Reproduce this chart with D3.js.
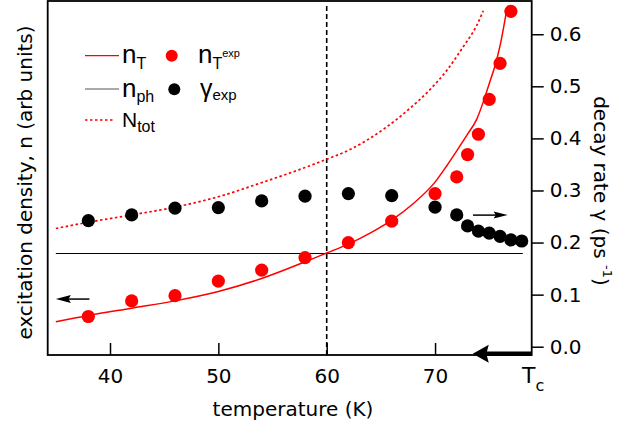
<!DOCTYPE html>
<html><head><meta charset="utf-8">
<script src="https://cdn.jsdelivr.net/npm/d3@7"></script>
<style>body{margin:0;background:#fff} svg{display:block}</style>
</head><body>
<svg id="c" width="621" height="425"></svg>
<script>
// ---------- data ----------
const tempTicks  = [40, 50, 60, 70];
const gammaTicks = [0, 0.1, 0.2, 0.3, 0.4, 0.5, 0.6];

// n_T experimental (red dots, left axis, arb units)
const nTexpT = [38, 42, 46, 50, 54, 58, 62, 66, 70, 72, 73, 74, 75, 76, 77];
const nTexpV = [0.058, 0.088, 0.098, 0.126, 0.147, 0.171, 0.200, 0.241, 0.294, 0.326, 0.369, 0.408, 0.475, 0.544, 0.644];

// gamma experimental (black dots, right axis, ps^-1)
const gammaT = [38, 42, 46, 50, 54, 58, 62, 66, 70, 72, 73, 74, 75, 76, 77, 78];
const gammaV = [0.242, 0.253, 0.266, 0.267, 0.280, 0.289, 0.294, 0.290, 0.268, 0.253, 0.232, 0.222, 0.218, 0.212, 0.205, 0.203];

// n_T model (red solid line)
const nTfitT = [35, 38, 42, 46, 50, 54, 58, 60, 62, 64, 66, 68, 70, 71.1, 72, 73, 73.85, 74.5, 75, 75.5, 76, 76.3, 76.6];
const nTfitV = [0.048, 0.060, 0.074, 0.088, 0.106, 0.131, 0.163, 0.180, 0.197, 0.218, 0.243, 0.275, 0.316, 0.348, 0.376, 0.408, 0.437, 0.473, 0.505, 0.537, 0.578, 0.610, 0.645];

// N_tot (red dotted line)
const nTotT = [35, 38, 42, 46, 50, 54, 58, 60, 62, 65.4, 67.7, 69.5, 71.1, 72.6, 73.85, 74.45];
const nTotV = [0.227, 0.239, 0.253, 0.268, 0.288, 0.315, 0.344, 0.360, 0.377, 0.420, 0.458, 0.493, 0.531, 0.576, 0.617, 0.645];

// n_ph (black horizontal line)
const nPhT = [35, 78.1];
const nPhV = [0.18, 0.18];

// markers / annotations (data units)
const tMarker = 60;
const leftArrow  = {t0: 38.1, t1: 35.0, v: 0.0915};
const rightArrow = {t0: 73.5, t1: 76.7, v: 0.2527};
const tcArrow    = {t0: 78.92, t1: 73.48, v: -0.0135};

// ---------- layout ----------
const L = 47.7, R = 531.7, T = 1, B = 355;
const svg = d3.select("#c");
const x  = d3.scaleLinear().domain([34.25, 78.92]).range([L, R]);
const yR = d3.scaleLinear().domain([-0.0159, 0.6638]).range([B, T]);
const yL = d3.scaleLinear().domain([-0.0159, 0.6638]).range([B, T]);
const AX = "DejaVu Sans, sans-serif";
const LG = "Liberation Sans, Arial, sans-serif";

// vertical dashed line at T = 60
svg.append("line")
  .attr("x1", x(tMarker)).attr("x2", x(tMarker))
  .attr("y1", yR(0.654)).attr("y2", B)
  .attr("stroke", "#000").attr("stroke-width", 1.6).attr("stroke-dasharray", "5,3");

// n_ph line
const zip = (a, b) => a.map((d, i) => [d, b[i]]);
svg.append("path").datum(zip(nPhT, nPhV))
  .attr("d", d3.line().x(d => x(d[0])).y(d => Math.round(yL(d[1])) + 0.5))
  .attr("fill", "none").attr("stroke", "#000").attr("stroke-width", 1);

// N_tot dotted
svg.append("path").datum(zip(nTotT, nTotV))
  .attr("d", d3.line().curve(d3.curveMonotoneX).x(d => x(d[0])).y(d => yL(d[1])))
  .attr("fill", "none").attr("stroke", "#f00").attr("stroke-width", 1.7).attr("stroke-dasharray", "2.5,2.5");

// n_T line
svg.append("path").datum(zip(nTfitT, nTfitV))
  .attr("d", d3.line().curve(d3.curveMonotoneX).x(d => x(d[0])).y(d => yL(d[1])))
  .attr("fill", "none").attr("stroke", "#f00").attr("stroke-width", 1.5);

// dots
svg.append("g").selectAll("circle").data(zip(nTexpT, nTexpV)).join("circle")
  .attr("cx", d => x(d[0])).attr("cy", d => yL(d[1])).attr("r", 6.6).attr("fill", "#f00");
svg.append("g").selectAll("circle").data(zip(gammaT, gammaV)).join("circle")
  .attr("cx", d => x(d[0])).attr("cy", d => yR(d[1])).attr("r", 6.6).attr("fill", "#000");

// frame
svg.append("rect").attr("x", L).attr("y", T).attr("width", R - L).attr("height", B - T)
  .attr("fill", "none").attr("stroke", "#000").attr("stroke-width", 1.8);

// bottom axis (ticks inward)
const gx = svg.append("g").attr("transform", `translate(0,${B})`)
  .call(d3.axisBottom(x).tickValues(tempTicks).tickSize(-12).tickSizeOuter(0).tickPadding(14).tickFormat(d3.format("d")));
gx.select(".domain").remove();
gx.selectAll(".tick line").attr("stroke-width", 1.5);
gx.selectAll(".tick text").attr("font-family", AX).attr("font-size", 20).attr("fill", "#000");

// right axis (ticks outward)
const gy = svg.append("g").attr("transform", `translate(${R},0)`)
  .call(d3.axisRight(yR).tickValues(gammaTicks).tickSize(12).tickSizeOuter(0).tickPadding(6).tickFormat(d3.format(".1f")));
gy.select(".domain").remove();
gy.selectAll(".tick line").attr("stroke-width", 1.5);
gy.selectAll(".tick text").attr("font-family", AX).attr("font-size", 20).attr("fill", "#000");

// axis titles
svg.append("text").attr("x", 293).attr("y", 416).attr("text-anchor", "middle")
  .attr("font-family", AX).attr("font-size", 20).text("temperature (K)");
svg.append("text").attr("transform", "translate(31.5,182.5) rotate(-90)").attr("text-anchor", "middle")
  .attr("font-family", AX).attr("font-size", 20).text("excitation density, n (arb units)");
const rt = svg.append("text").attr("transform", "translate(594,191) rotate(90)").attr("text-anchor", "middle")
  .attr("font-family", AX).attr("font-size", 20);
rt.append("tspan").text("decay rate γ (ps ");
rt.append("tspan").attr("font-size", 13).attr("dy", -9).text("-1");
rt.append("tspan").attr("dy", 9).text(")");

// arrows
function arrow(x0, y0, x1, y1, len, half, w) {
  const dir = Math.sign(x1 - x0);
  svg.append("line").attr("x1", x0).attr("y1", y0).attr("x2", x1 - dir * len * 0.8).attr("y2", y1)
    .attr("stroke", "#000").attr("stroke-width", w);
  svg.append("path").attr("d", `M${x1},${y1} L${x1 - dir * len},${y1 - half} L${x1 - dir * len * 0.85},${y1} L${x1 - dir * len},${y1 + half} Z`)
    .attr("fill", "#000");
}
arrow(x(leftArrow.t0), yL(leftArrow.v), x(leftArrow.t1), yL(leftArrow.v), 15, 4, 1.5);
arrow(x(rightArrow.t0), yR(rightArrow.v), x(rightArrow.t1), yR(rightArrow.v), 14, 3.5, 1.5);
arrow(x(tcArrow.t0), yR(tcArrow.v), x(tcArrow.t1), yR(tcArrow.v), 16, 9, 4.5);

// T_c label
const tc = svg.append("text").attr("x", 522).attr("y", 383).attr("font-family", AX).attr("font-size", 22);
tc.append("tspan").text("T");
tc.append("tspan").attr("font-size", 16).attr("dy", 8).text("c");

// ---------- legend ----------
const lg = svg.append("g");
lg.append("line").attr("x1", 85).attr("x2", 119).attr("y1", 55.7).attr("y2", 55.7).attr("stroke", "#f00").attr("stroke-width", 1.2);
lg.append("line").attr("x1", 85).attr("x2", 119).attr("y1", 89).attr("y2", 89).attr("stroke", "#555").attr("stroke-width", 1.2);
lg.append("line").attr("x1", 85).attr("x2", 115).attr("y1", 120).attr("y2", 120).attr("stroke", "#f00").attr("stroke-width", 1.6).attr("stroke-dasharray", "2.5,2.5");
lg.append("circle").attr("cx", 171.7).attr("cy", 55.7).attr("r", 6).attr("fill", "#f00");
lg.append("circle").attr("cx", 174.3).attr("cy", 89.3).attr("r", 6).attr("fill", "#000");

function lgText(xp, yp, main, mainSize, sub, subSize, subDy, sup) {
  const t = lg.append("text").attr("x", xp).attr("y", yp).attr("font-family", LG).attr("font-size", mainSize);
  t.append("tspan").text(main);
  t.append("tspan").attr("font-size", subSize).attr("dy", subDy).text(sub);
  if (sup) t.append("tspan").attr("font-size", 11).attr("dy", -subDy - 6).text(sup);
}
lgText(122, 63.3, "n", 26, "T", 16, 6, null);
lgText(198, 63.3, "n", 26, "T", 16, 6, "exp");
lgText(122, 96.7, "n", 26, "ph", 16, 5, null);
lgText(200, 97, "γ", 25, "exp", 15, 3, null);
lgText(122, 127.3, "N", 21, "tot", 16, 4.5, null);
</script>
</body></html>
